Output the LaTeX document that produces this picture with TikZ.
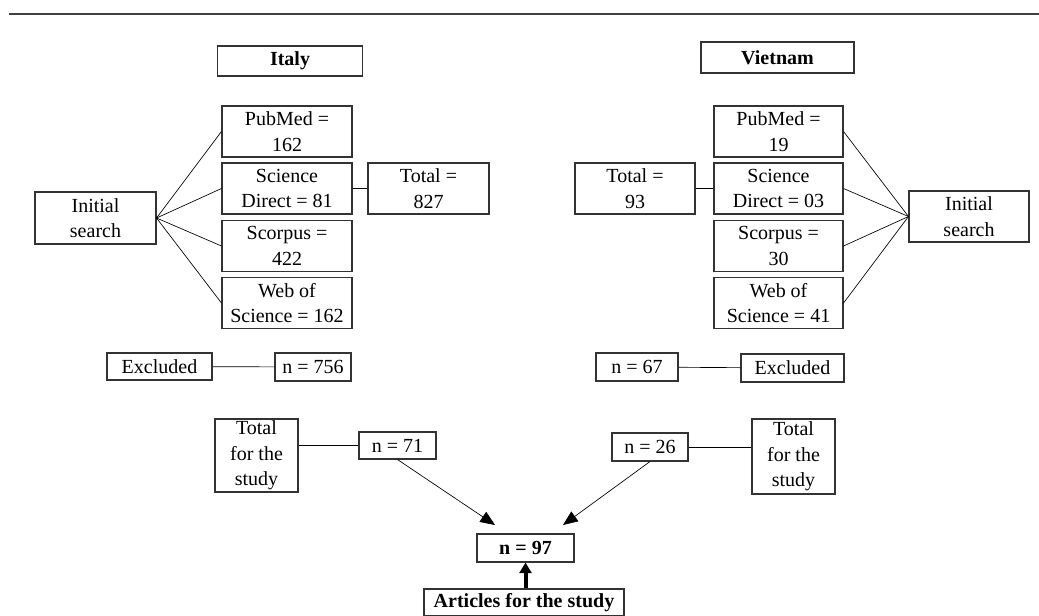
\documentclass[tikz,border=0pt]{standalone}
\usepackage{fontspec}
\setmainfont{Liberation Serif}
\usetikzlibrary{arrows.meta}
\tikzset{
  box/.style={draw=black!80, line width=0.8pt, align=center, inner sep=0pt,
    font=\fontsize{15}{19}\selectfont},
  hbox/.style={box, font=\fontsize{15}{19}\selectfont\bfseries},
  wh/.style 2 args={minimum width={#1*0.75pt}, minimum height={#2*0.75pt}},
  link/.style={line width=0.5pt},
  feed/.style={line width=0.5pt, -{Triangle[length=11pt,width=9pt]}},
  bigfeed/.style={line width=3pt, -{Triangle[length=8pt,width=9pt]}}
}
\begin{document}
\begin{tikzpicture}[x=0.75pt, y=-0.75pt]
  \useasboundingbox (0,0) rectangle (1039,615);
  \draw[line width=1pt, black!75] (9,14) -- (1039,14);
  % Italy
  \draw
    (290,61) node[hbox, wh={145}{30}] (italy){Italy}
    (95.5,218) node[box, wh={121}{52}] (isL){Initial\\search}
    (287,131.5) node[box, wh={130}{51}] (pubL){PubMed =\\162}
    (287,188.5) node[box, wh={130}{51}] (sdL){Science\\Direct = 81}
    (287,246) node[box, wh={130}{51}] (scoL){Scorpus =\\422}
    (287,303) node[box, wh={130}{51}] (wosL){Web of\\Science = 162}
    (428.5,188.5) node[box, wh={121}{51}] (totL){Total =\\827}
    (159.5,366.5) node[box, wh={105}{27}] (exL){Excluded}
    (313,367) node[box, wh={76}{28}] (n756){n = 756}
    (256.5,455.5) node[box, wh={83}{73}] (tsL){Total\\for the\\study}
    (397.5,445.5) node[box, wh={77}{27}] (n71){n = 71};
  % Vietnam
  \draw
    (777.5,57.5) node[hbox, wh={153}{31}] (vietnam){Vietnam}
    (969,216.5) node[box, wh={120}{51}] (isR){Initial\\search}
    (778.5,131.5) node[box, wh={129}{51}] (pubR){PubMed =\\19}
    (778.5,188.5) node[box, wh={129}{51}] (sdR){Science\\Direct = 03}
    (778.5,246) node[box, wh={129}{51}] (scoR){Scorpus =\\30}
    (778.5,303) node[box, wh={129}{51}] (wosR){Web of\\Science = 41}
    (635,188.5) node[box, wh={120}{51}] (totR){Total =\\93}
    (637,367) node[box, wh={82}{28}] (n67){n = 67}
    (792.5,368) node[box, wh={103}{28}] (exR){Excluded}
    (650,447) node[box, wh={76}{28}] (n26){n = 26}
    (793.5,456.5) node[box, wh={83}{75}] (tsR){Total\\for the\\study};
  % merged result
  \draw
    (525.5,548) node[hbox, wh={97}{28}] (n97){n = 97}
    (524,602.5) node[hbox, wh={200}{27}] (art){Articles for the study};
  \coordinate (inL) at (495,525);
  \coordinate (inR) at (563,525);
  \begin{scope}[link]
    \draw (isL.east) to (pubL.west);
    \draw (isL.east) to (sdL.west);
    \draw (isL.east) to (scoL.west);
    \draw (isL.east) to (wosL.west);
    \draw (sdL) to (totL);
    \draw (exL) to (n756);
    \draw (n71.west -| tsL.east) to (n71.west);
    \draw (pubR.east) to (isR.west);
    \draw (sdR.east) to (isR.west);
    \draw (scoR.east) to (isR.west);
    \draw (wosR.east) to (isR.west);
    \draw (totR) to (sdR);
    \draw (n67) to (exR);
    \draw (n26.east) to (n26.east -| tsR.west);
  \end{scope}
  \draw[feed] (n71.south) to (inL);
  \draw[feed] (n26.south) to (inR);
  \draw[bigfeed] (n97.south |- art.north) to (n97.south);
\end{tikzpicture}
\end{document}
